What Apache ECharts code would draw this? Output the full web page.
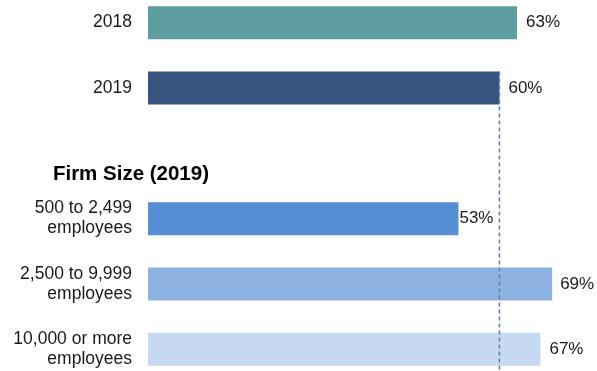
<!DOCTYPE html>
<html>
<head>
<meta charset="utf-8">
<script src="https://cdn.jsdelivr.net/npm/echarts@6/dist/echarts.min.js"></script>
<style>
  html, body { margin: 0; padding: 0; background: #fff; }
  #chart { width: 597px; height: 371px; }
</style>
</head>
<body>
<div id="chart"></div>
<script>
// Rows of the chart, top to bottom; the blank row leaves room for the section heading
const categories = ['2018', '2019', '', '500 to 2,499\nemployees', '2,500 to 9,999\nemployees', '10,000 or more\nemployees'];
const values = [63, 60, null, 53, 69, 67];
const barColors = ['#5f9ea0', '#375480', '#ffffff', '#558ed5', '#8db3e2', '#c6d9f1'];
const labelGaps = [9, 9, 0, 1, 8, 9];
const sectionTitle = 'Firm Size (2019)';
// Reference level (the 2019 overall share) drawn as a dashed line
const referenceValue = 60;
const referenceRow = '2019';

const chart = echarts.init(document.getElementById('chart'), null, { renderer: 'canvas' });
const font = 'Liberation Sans, Arial, sans-serif';

chart.setOption({
  animation: false,
  backgroundColor: '#fff',
  grid: { left: 148, top: -10, width: 439.3, height: 392, outerBoundsMode: 'none', containLabel: false },
  xAxis: {
    type: 'value', min: 0, max: 75, show: false
  },
  yAxis: {
    type: 'category',
    data: categories,
    inverse: true,
    axisLine: { show: false },
    axisTick: { show: false },
    splitLine: { show: false },
    axisLabel: {
      margin: 16, fontSize: 17.5, color: '#1a1a1a', fontFamily: font,
      lineHeight: 20, align: 'right'
    }
  },
  graphic: [{
    type: 'text',
    right: 597 - 209,
    top: 164,
    style: { text: sectionTitle, font: 'bold 20.5px ' + font, fill: '#000' }
  }],
  series: [{
    type: 'bar',
    barWidth: 33,
    data: values.map((v, i) => ({
      value: v,
      itemStyle: { color: barColors[i] },
      label: { distance: labelGaps[i] }
    })),
    label: {
      show: true, position: 'right', formatter: '{c}%',
      fontSize: 17, color: '#1a1a1a', fontFamily: font
    },
    z: 2
  }, {
    type: 'custom',
    z: 5,
    data: [[referenceValue, referenceRow]],
    renderItem: function (params, api) {
      const p = api.coord([api.value(0), api.value(1)]);
      const cs = params.coordSys;
      return {
        type: 'line',
        shape: { x1: p[0], y1: p[1] - 16.5, x2: p[0], y2: cs.y + cs.height },
        style: { stroke: '#5f80a8', lineWidth: 1.5, lineDash: [4, 3] }
      };
    }
  }]
});
</script>
</body>
</html>
